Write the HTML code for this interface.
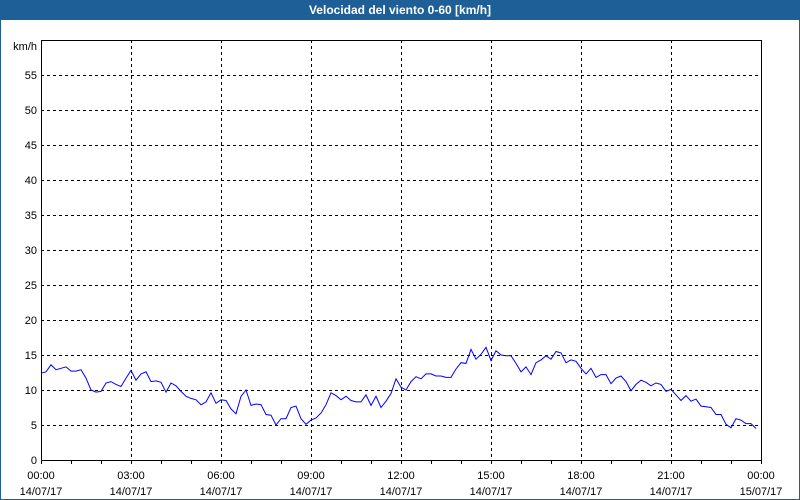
<!DOCTYPE html>
<html><head><meta charset="utf-8"><style>
html,body{margin:0;padding:0;background:#fff;}
#wrap{position:relative;width:800px;height:500px;box-sizing:border-box;border:1px solid #1f5f98;border-top:none;background:#fff;overflow:hidden;}
#title{position:absolute;left:0;top:0;width:798px;height:20px;background:#1f5f98;color:#fff;font:bold 12px "Liberation Sans",sans-serif;text-align:center;line-height:21px;}
svg{position:absolute;left:-1px;top:0;}
text{font-family:"Liberation Sans",sans-serif;font-size:11px;fill:#000;}
</style></head><body>
<div id="wrap">
<div id="title">Velocidad del viento 0-60 [km/h]</div>
<svg id="chart" width="800" height="500"></svg>
</div>
<script>
const yTicks=[0,5,10,15,20,25,30,35,40,45,50,55];
const xHours=[0,3,6,9,12,15,18,21,24];
const xTimeLabels=["00:00","03:00","06:00","09:00","12:00","15:00","18:00","21:00","00:00"];
const xDateLabels=["14/07/17","14/07/17","14/07/17","14/07/17","14/07/17","14/07/17","14/07/17","14/07/17","15/07/17"];
const stepMinutes=10;
const windSpeed=[12.4,12.6,13.6,12.9,13.1,13.3,12.7,12.7,12.9,11.7,10.0,9.7,9.8,11.0,11.2,10.8,10.5,11.7,12.8,11.4,12.3,12.6,11.2,11.3,11.1,9.7,11.0,10.6,9.8,9.1,8.8,8.6,7.9,8.3,9.6,8.1,8.6,8.5,7.3,6.6,9.1,10.0,7.8,8.0,7.9,6.5,6.4,5.0,5.9,5.9,7.5,7.7,5.9,5.1,5.7,6.0,6.7,7.9,9.6,9.2,8.6,9.1,8.5,8.3,8.3,9.3,7.8,9.1,7.5,8.4,9.5,11.6,10.4,10.0,11.2,11.9,11.6,12.3,12.3,12.0,12.0,11.8,11.8,13.0,13.9,13.8,15.8,14.4,15.1,16.1,14.2,15.6,15.0,14.9,14.9,13.8,12.6,13.3,12.2,13.9,14.3,14.9,14.4,15.5,15.3,13.9,14.3,14.1,13.1,12.3,13.1,11.8,12.2,12.2,10.9,11.7,12.0,11.2,9.9,10.8,11.4,11.1,10.6,11.0,10.8,9.8,10.1,9.3,8.5,9.2,8.4,8.7,7.7,7.6,7.5,6.5,6.5,5.1,4.6,5.9,5.7,5.2,5.2,4.5];

const svg=document.getElementById('chart');
const NS='http://www.w3.org/2000/svg';
const L=41,R=761,T=40,B=460,YMAX=60,HMAX=24;
const xs=h=>L+(R-L)*h/HMAX;
const ys=v=>B-(B-T)*v/YMAX;
function mk(tag,attrs){const e=document.createElementNS(NS,tag);for(const k in attrs)e.setAttribute(k,attrs[k]);svg.appendChild(e);return e;}

yTicks.forEach(v=>{
  if(v>0){const g=mk('line',{x1:L,x2:R,y1:ys(v)+0.5,y2:ys(v)+0.5,stroke:'#000','stroke-dasharray':'3,3'});
  
  }
  const t=mk('text',{x:37,y:ys(v)+4,'text-anchor':'end'});t.textContent=v;
  
  
});
const u=mk('text',{x:37,y:50,'text-anchor':'end'});u.textContent='km/h';



for(let h=0;h<=HMAX;h++){
  const tk=mk('line',{x1:xs(h)+0.5,x2:xs(h)+0.5,y1:B,y2:B+4,stroke:'#000'});
  
  
}
xHours.forEach((h,i)=>{
  if(h>0&&h<HMAX){const g=mk('line',{x1:xs(h)+0.5,x2:xs(h)+0.5,y1:T,y2:B,stroke:'#000','stroke-dasharray':'3,3'});
  
  }
  const t1=mk('text',{x:xs(h),y:479,'text-anchor':'middle'});t1.textContent=xTimeLabels[i];
  
  
  const t2=mk('text',{x:xs(h),y:495,'text-anchor':'middle'});t2.textContent=xDateLabels[i];
  
  
});
const box=mk('rect',{x:L+0.5,y:T+0.5,width:R-L,height:B-T,fill:'none',stroke:'#000'});



const pts=windSpeed.map((v,i)=>xs(i*stepMinutes/60).toFixed(1)+','+ys(v).toFixed(1)).join(' ');
const line=mk('polyline',{points:pts,fill:'none',stroke:'#0000ff','stroke-width':1});


</script>
</body></html>
